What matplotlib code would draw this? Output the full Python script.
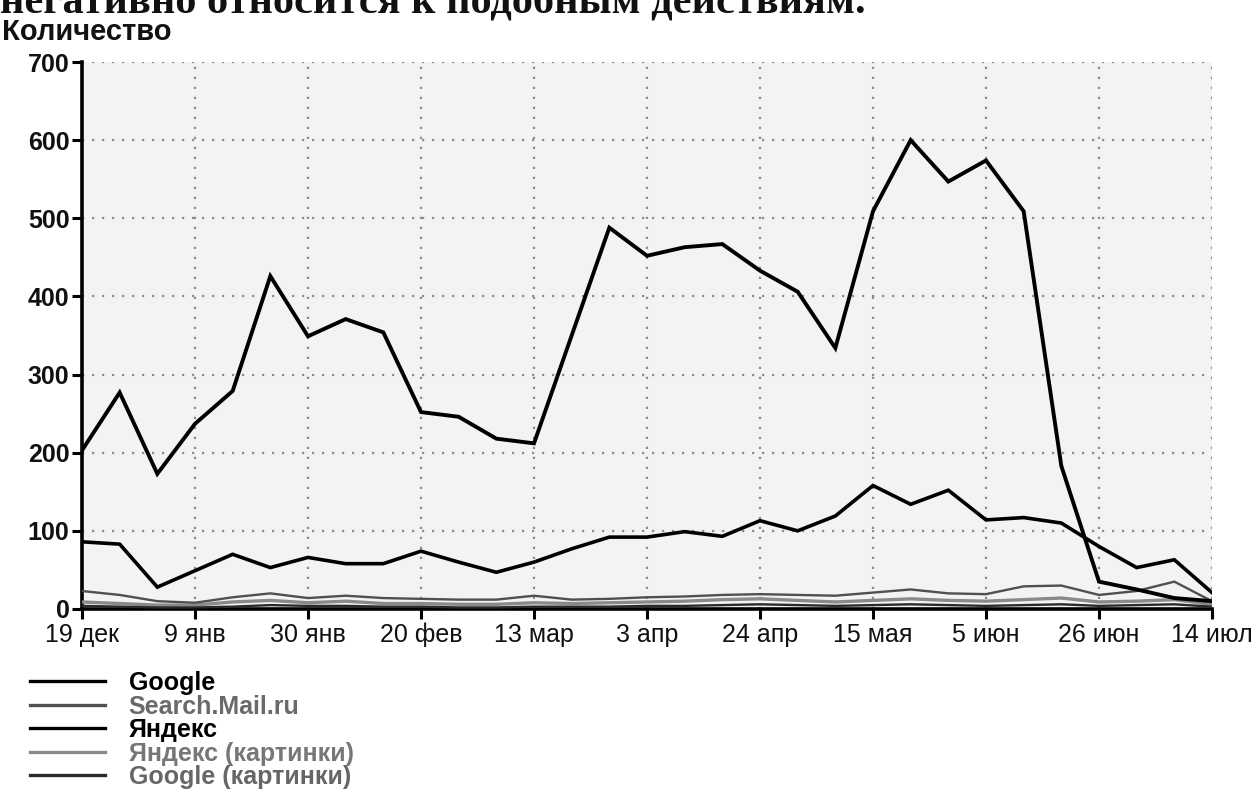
import matplotlib
matplotlib.use("Agg")
import matplotlib.pyplot as plt
import numpy as np

plt.rcParams['font.family'] = ['Liberation Sans', 'DejaVu Sans']

# ---- data ----
weeks = list(range(31))
tick_pos = [0, 3, 6, 9, 12, 15, 18, 21, 24, 27, 30]
tick_labels = ['19 дек', '9 янв', '30 янв', '20 фев', '13 мар', '3 апр',
               '24 апр', '15 мая', '5 июн', '26 июн', '14 июл']

google = [86, 83, 28, 49, 70, 53, 66, 58, 58, 74, 60, 47, 60, 77, 92, 92,
          99, 93, 113, 100, 119, 158, 134, 152, 114, 117, 110, 80, 53, 63, 21]
search_mail = [23, 18, 10, 8, 15, 20, 14, 17, 14, 13, 12, 12, 17, 12, 13, 15,
               16, 18, 19, 18, 17, 21, 25, 20, 19, 29, 30, 18, 23, 35, 10]
yandex = [203, 277, 173, 237, 279, 426, 349, 371, 354, 252, 246, 218, 212, 350,
          488, 452, 463, 467, 433, 406, 334, 509, 600, 547, 574, 509, 183, 35,
          25, 14, 10]
yandex_img = [9, 7, 5, 5, 9, 11, 8, 10, 7, 7, 6, 6, 8, 7, 8, 9, 10, 12, 13, 11,
              9, 11, 13, 11, 10, 12, 14, 9, 10, 12, 6]
google_img = [4, 3, 2, 2, 3, 5, 4, 4, 3, 3, 2, 2, 3, 3, 3, 4, 4, 5, 6, 5, 4, 5,
              6, 5, 4, 5, 6, 4, 5, 6, 3]

series_names = ['Google', 'Search.Mail.ru', 'Яндекс', 'Яндекс (картинки)', 'Google (картинки)']
series_vals = [google, search_mail, yandex, yandex_img, google_img]
series_colors = ['#000000', '#505050', '#000000', '#8a8a8a', '#2a2a2a']
series_lw = [2.6, 1.7, 2.8, 2.4, 1.7]
label_colors = ['#000000', '#6a6a6a', '#000000', '#777777', '#666666']
y_ticks = [0, 100, 200, 300, 400, 500, 600, 700]

W, H = 1257, 797
fig = plt.figure(figsize=(W / 100, H / 100), dpi=100)
fig.patch.set_facecolor('white')

ax = fig.add_axes([82 / W, 1 - 609 / H, (1212 - 82) / W, (609 - 62) / H])
ax.set_facecolor('#f3f3f3')

# gridlines
for yt in y_ticks[1:]:
    ax.axhline(yt, color='#8c8c8c', lw=1.6, ls=(0, (1, 3.5)), zorder=1)
for xt in tick_pos[1:]:
    ax.axvline(xt, color='#8c8c8c', lw=1.6, ls=(0, (1, 3.5)), zorder=1)

draw_order = [3, 4, 1, 0, 2]
lines = {}
for i in draw_order:
    ln, = ax.plot(weeks, series_vals[i], color=series_colors[i], lw=series_lw[i],
                  solid_joinstyle='miter', zorder=3 + (i in (0, 2)))
    lines[i] = ln
handles = [lines[i] for i in range(5)]

ax.set_xlim(0, 30)
ax.set_ylim(0, 700)
ax.set_xticks(tick_pos)
ax.set_xticklabels(tick_labels, fontsize=18, color='#111111')
ax.set_yticks(y_ticks)
ax.set_yticklabels([str(v) for v in y_ticks], fontsize=18, fontweight='bold', color='#111111')
for s in ['top', 'right']:
    ax.spines[s].set_visible(False)
for s in ['left', 'bottom']:
    ax.spines[s].set_linewidth(2.6)
    ax.spines[s].set_color('#000000')
ax.tick_params(axis='both', length=7, width=2.2, color='#000000')
ax.tick_params(axis='y', pad=2)
ax.tick_params(axis='x', pad=3)

# clipped text line at very top
fig.text(0.0, 1 - 12 / H, 'негативно относится к подобным действиям.',
         family=['Liberation Serif', 'DejaVu Serif'], fontweight='bold',
         fontsize=30.5, va='baseline', ha='left', color='#111111')

fig.text(2 / W, 1 - 40 / H, 'Количество', fontsize=21, fontweight='bold',
         va='baseline', ha='left', color='#111111')

leg = fig.legend(handles, series_names, loc='upper left',
                 bbox_to_anchor=(30 / W, 1 - 671 / H), frameon=False,
                 prop={'family': 'Liberation Sans', 'weight': 'bold', 'size': 18},
                 handlelength=3.0, handletextpad=0.95, labelspacing=-0.02,
                 borderpad=0, borderaxespad=0)
for txt, c in zip(leg.get_texts(), label_colors):
    txt.set_color(c)
for lh in leg.get_lines():
    lh.set_linewidth(2.4)

fig.savefig('out.png', dpi=100)
